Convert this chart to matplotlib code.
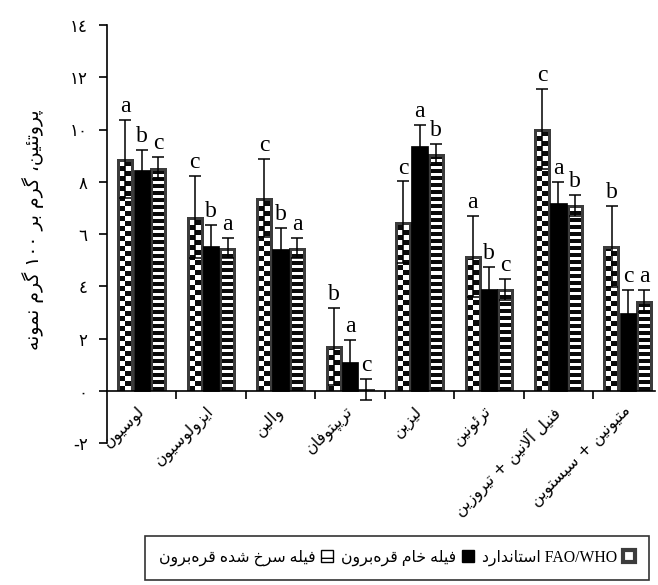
import re
import numpy as np
import matplotlib
matplotlib.use("Agg")
import matplotlib.pyplot as plt
from matplotlib.colors import ListedColormap
from matplotlib.patches import Patch
from matplotlib.transforms import ScaledTranslation

# ---- data ----
amino_acids = ["لوسیون", "ایزولوسیون", "والین", "تریپتوفان", "لیزین",
               "ترئونین", "فنیل آلانین + تیروزین", "متیونین + سیستوین"]

fao_who = [8.87, 6.64, 7.38, 1.70, 6.45, 5.13, 10.02, 5.54]
fao_err = [1.50, 1.57, 1.50, 1.48, 1.56, 1.56, 1.53, 1.55]
raw_fillet = [8.46, 5.54, 5.42, 1.11, 9.38, 3.91, 7.20, 2.99]
raw_err = [0.77, 0.80, 0.80, 0.83, 0.80, 0.82, 0.78, 0.86]
fried_fillet = [8.53, 5.46, 5.46, 0.04, 9.04, 3.88, 7.09, 3.43]
fried_err = [0.42, 0.38, 0.38, 0.40, 0.41, 0.40, 0.40, 0.42]

fao_letters = ["a", "c", "c", "b", "c", "a", "c", "b"]
raw_letters = ["b", "b", "b", "a", "a", "b", "a", "c"]
fried_letters = ["c", "a", "a", "c", "b", "c", "b", "a"]

y_ticks = [-2, 0, 2, 4, 6, 8, 10, 12, 14]
y_label = "پروتئین، گرم بر ١٠٠ گرم نمونه"
legend_labels = ["استاندارد", "فیله خام قره\u200cبرون", "فیله سرخ شده قره\u200cبرون"]

# ---- minimal Arabic/Persian shaping (matplotlib has no text shaping) ----
FORMS = {
    "ا": ("\uFE8D", "\uFE8E", None, None),
    "آ": ("\uFE81", "\uFE82", None, None),
    "ب": ("\uFE8F", "\uFE90", "\uFE91", "\uFE92"),
    "پ": ("\uFB56", "\uFB57", "\uFB58", "\uFB59"),
    "ت": ("\uFE95", "\uFE96", "\uFE97", "\uFE98"),
    "خ": ("\uFEA5", "\uFEA6", "\uFEA7", "\uFEA8"),
    "د": ("\uFEA9", "\uFEAA", None, None),
    "ر": ("\uFEAD", "\uFEAE", None, None),
    "ز": ("\uFEAF", "\uFEB0", None, None),
    "س": ("\uFEB1", "\uFEB2", "\uFEB3", "\uFEB4"),
    "ش": ("\uFEB5", "\uFEB6", "\uFEB7", "\uFEB8"),
    "ف": ("\uFED1", "\uFED2", "\uFED3", "\uFED4"),
    "ق": ("\uFED5", "\uFED6", "\uFED7", "\uFED8"),
    "گ": ("\uFB92", "\uFB93", "\uFB94", "\uFB95"),
    "ل": ("\uFEDD", "\uFEDE", "\uFEDF", "\uFEE0"),
    "م": ("\uFEE1", "\uFEE2", "\uFEE3", "\uFEE4"),
    "ن": ("\uFEE5", "\uFEE6", "\uFEE7", "\uFEE8"),
    "ه": ("\uFEE9", "\uFEEA", "\uFEEB", "\uFEEC"),
    "و": ("\uFEED", "\uFEEE", None, None),
    "ی": ("\uFBFC", "\uFBFD", "\uFBFE", "\uFBFF"),
    "ئ": ("\uFE89", "\uFE8A", "\uFE8B", "\uFE8C"),
}
LAM_ALEF = {"ا": ("\uFEFB", "\uFEFC"), "آ": ("\uFEF5", "\uFEF6")}


def joins_next(c):
    f = FORMS.get(c)
    return f is not None and f[2] is not None


def vis(text):
    out = []
    i, n = 0, len(text)
    while i < n:
        c = text[i]
        if c not in FORMS:
            out.append(c)
            i += 1
            continue
        prev_join = i > 0 and joins_next(text[i - 1])
        if c == "ل" and i + 1 < n and text[i + 1] in LAM_ALEF:
            iso, fin = LAM_ALEF[text[i + 1]]
            out.append(fin if prev_join else iso)
            i += 2
            continue
        nxt = text[i + 1] if i + 1 < n else ""
        next_join = joins_next(c) and nxt in FORMS
        iso, fin, ini, med = FORMS[c]
        if prev_join and next_join:
            out.append(med)
        elif prev_join:
            out.append(fin)
        elif next_join:
            out.append(ini)
        else:
            out.append(iso)
        i += 1
    s = "".join(out).replace("\u200c", "")
    tokens = re.findall(r"[0-9\u0660-\u0669]+|.", s)
    return "".join(tokens[::-1])


def ar_digits(v):
    return str(v).translate(str.maketrans("0123456789", "٠١٢٣٤٥٦٧٨٩"))


# ---- bar fill patterns as small pixel images ----
PX_PER_UNIT = 26.1
pattern_cmap = ListedColormap(["white", "#3c3c3c", "#0a0a0a"])


def pattern(kind, rows, cols=16, frame=3):
    img = np.ones((rows, cols))
    r = np.arange(rows)[:, None]
    c = np.arange(cols - 2 * frame)[None, :]
    if kind == "check":
        inner = np.where(((r // 5) + (c // 5)) % 2 == 0, 2, 0)
    else:
        inner = np.where(r % 7 < 4, 2, 0) * np.ones_like(c)
    img[:, frame:cols - frame] = inner
    img[-frame:, :] = 1
    return img


def fill_bars(ax, bars, kind):
    for rect in bars:
        x0, w, h = rect.get_x(), rect.get_width(), rect.get_height()
        rows = max(1, int(round(h * PX_PER_UNIT)))
        ax.imshow(pattern(kind, rows), cmap=pattern_cmap, vmin=0, vmax=2,
                  origin="lower", extent=(x0, x0 + w, 0, h), aspect="auto",
                  interpolation="nearest", zorder=1.5)


ARABIC_FONT = "DejaVu Sans"
MIXED = ["Liberation Serif", "DejaVu Sans"]

fig = plt.figure(figsize=(6.58, 5.85), dpi=100)
ax = fig.add_axes([107 / 658, 1 - 443 / 585, 548 / 658, 418 / 585])

x = np.arange(1, len(amino_acids) + 1)
bw = 0.235
series = [
    (fao_who, fao_err, fao_letters, -bw, "check"),
    (raw_fillet, raw_err, raw_letters, 0.0, "black"),
    (fried_fillet, fried_err, fried_letters, bw, "stripe"),
]

for vals, errs, letters, off, kind in series:
    if kind == "black":
        bars = ax.bar(x + off, vals, bw, color="black", edgecolor="black",
                      linewidth=0.5, zorder=2)
    else:
        bars = ax.bar(x + off, vals, bw, color="none", edgecolor="none", zorder=2)
        fill_bars(ax, bars, kind)
    ax.errorbar(x + off, vals, yerr=errs, fmt="none", ecolor="black",
                elinewidth=1.1, capsize=4.2, capthick=1.1, zorder=3)
    for xi, v, e, lab in zip(x + off, vals, errs, letters):
        ax.annotate(lab, (xi, v + e), xytext=(0, 2), textcoords="offset points",
                    ha="center", va="bottom", fontsize=17,
                    family="Liberation Serif", zorder=4)

ax.set_xlim(0.5, 8.39)
ax.set_ylim(-2, 14)

ax.spines["top"].set_visible(False)
ax.spines["right"].set_visible(False)
ax.spines["bottom"].set_position(("data", 0))
for sp in ("left", "bottom"):
    ax.spines[sp].set_linewidth(1.2)

ax.set_yticks(y_ticks)
ax.set_yticklabels([ar_digits(v) if v >= 0 else "-" + ar_digits(-v) for v in y_ticks],
                   family=ARABIC_FONT, fontsize=12)
ax.tick_params(axis="y", length=6, width=1.2, pad=8)

ax.set_xticks(x[:-1] + 0.5)
ax.set_xticklabels([])
ax.tick_params(axis="x", which="major", length=6, width=1.2, direction="out")
ax.set_xticks(x, [vis(a) for a in amino_acids], minor=True)
ax.tick_params(axis="x", which="minor", length=0, pad=9)
shift = ScaledTranslation(6 / 100, 0, fig.dpi_scale_trans)
for lab in ax.get_xticklabels(minor=True):
    lab.set_rotation(45)
    lab.set_ha("right")
    lab.set_va("top")
    lab.set_fontsize(11.5)
    lab.set_family(ARABIC_FONT)
    lab.set_transform(lab.get_transform() + shift)

ax.set_ylabel(vis(y_label), family=ARABIC_FONT, fontsize=13.5)
ax.yaxis.set_label_coords(-0.115, 0.51)

handles = [
    Patch(facecolor="white", edgecolor="black", linewidth=1.0, hatch="-"),
    Patch(facecolor="black", edgecolor="black"),
    Patch(facecolor="white", edgecolor="#3c3c3c", linewidth=3.0),
]
labels = [vis(legend_labels[2]), vis(legend_labels[1]), vis(legend_labels[0]) + " FAO/WHO"]
leg = fig.legend(handles, labels, loc="center", bbox_to_anchor=(397 / 658, 1 - 558 / 585),
                 ncol=3, markerfirst=False, frameon=True, fancybox=False,
                 edgecolor="black", handlelength=0.8, handleheight=0.8,
                 handletextpad=0.35, columnspacing=0.5, borderpad=0.9,
                 borderaxespad=0, prop={"family": MIXED, "size": 11.3})
leg.get_frame().set_linewidth(1.2)

fig.savefig("out.png", dpi=100)
